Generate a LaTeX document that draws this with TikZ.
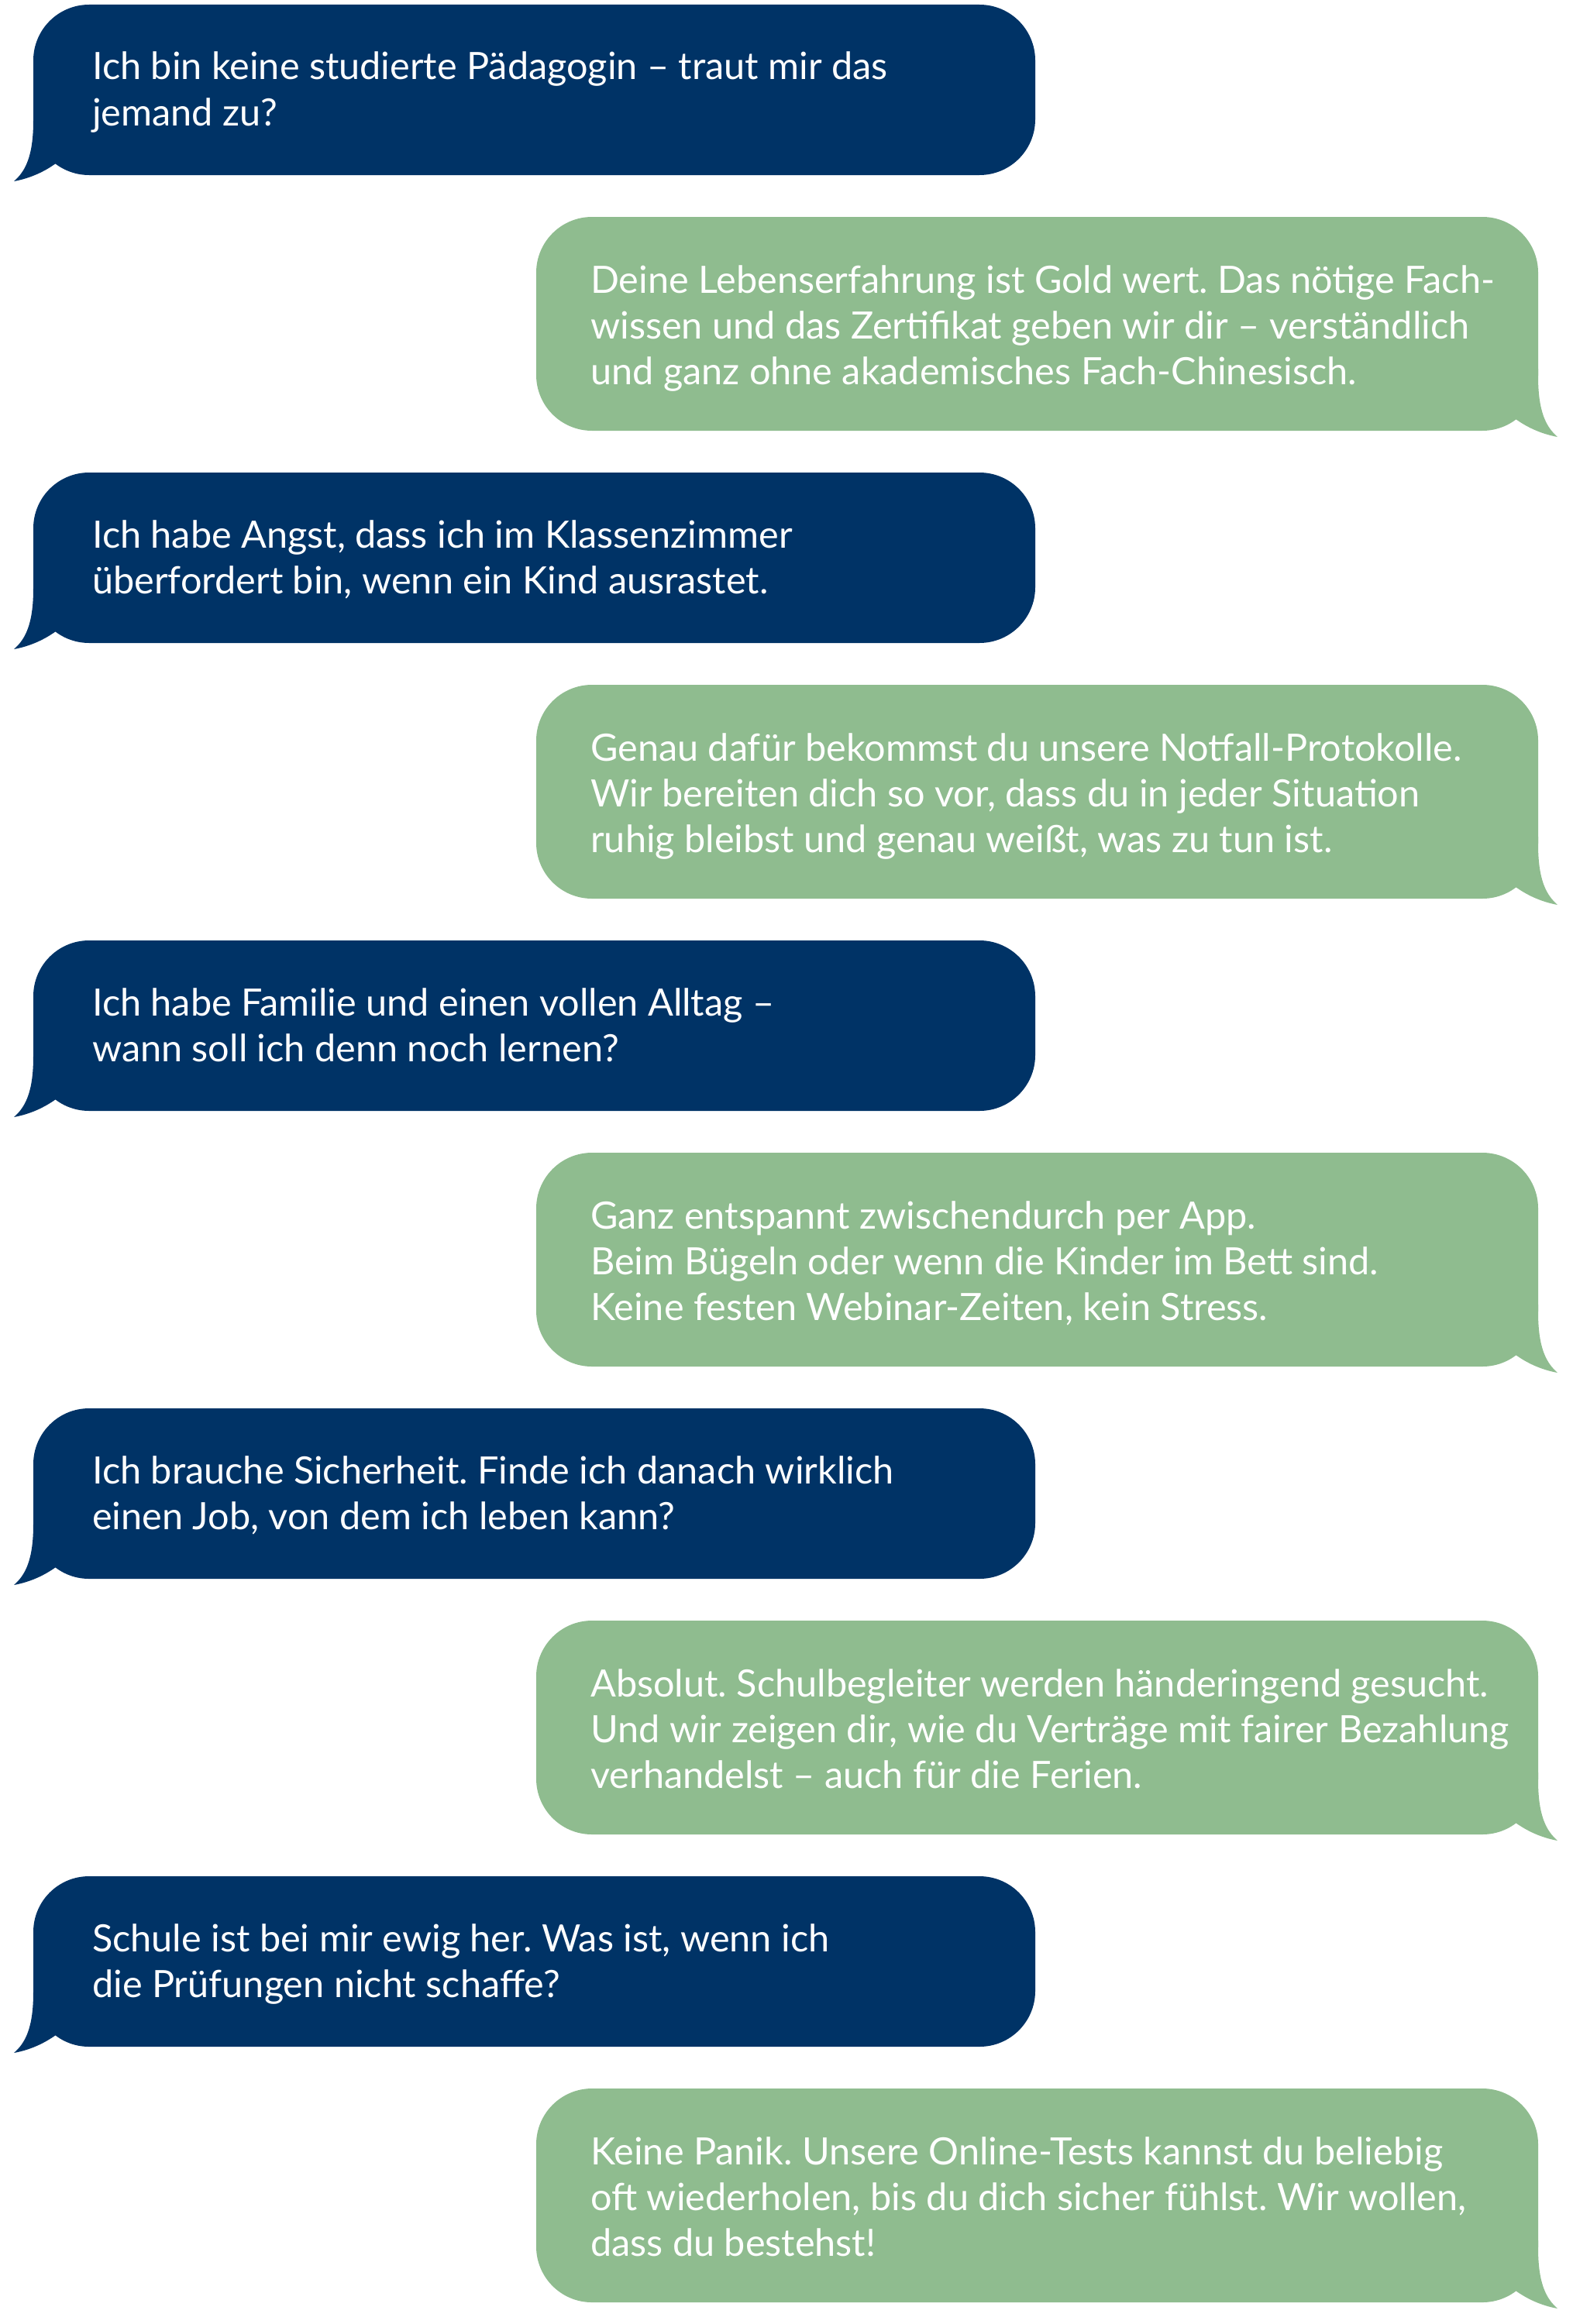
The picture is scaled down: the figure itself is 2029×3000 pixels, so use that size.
\documentclass[tikz,border=0pt]{standalone}
\usepackage{fontspec}
\setmainfont{Lato}
\frenchspacing
\definecolor{navy}{HTML}{003366}
\definecolor{sage}{HTML}{8FBC8F}
\tikzset{
  bubtext/.style={anchor=base west, inner sep=0pt, text=white,
    font=\fontsize{48.6pt}{59pt}\selectfont},
  bluefill/.style={fill=navy},
  greenfill/.style={fill=sage}
}
\newcommand\BlueBub[3]{%
  \begin{scope}[shift={(0,#1)}]
    \fill[bluefill, rounded corners=72pt] (43,0) rectangle (1336,220);
    \fill[bluefill] (43,140) -- (43,150) .. controls (43,195) and (33,215) .. (18,228)
      .. controls (40,224) and (58,215) .. (72,205) -- (95,160) -- cycle;
    \node[bubtext] (#2) at (119,97) {\parbox[t]{1300pt}{\frenchspacing #3}};
  \end{scope}}
\newcommand\GreenBub[3]{%
  \begin{scope}[shift={(0,#1)}]
    \fill[greenfill, rounded corners=72pt] (692,0) rectangle (1985,276);
    \fill[greenfill] (1985,196) -- (1985,206) .. controls (1985,251) and (1995,271) .. (2010,284)
      .. controls (1988,280) and (1970,271) .. (1956,261) -- (1933,216) -- cycle;
    \node[bubtext] (#2) at (762,98) {\parbox[t]{1300pt}{\frenchspacing #3}};
  \end{scope}}
\begin{document}
\begin{tikzpicture}[x=1pt,y=-1pt]
\useasboundingbox (0,0) rectangle (2029,3000);
\BlueBub{6}{b1}{Ich bin keine studierte Pädagogin – traut mir das\\jemand zu?}
\GreenBub{280}{g1}{Deine Lebenserfahrung ist Gold wert. Das nötige Fach-\\wissen und das Zertifikat geben wir dir – verständlich\\und ganz ohne akademisches Fach-Chinesisch.}
\BlueBub{610}{b2}{Ich habe Angst, dass ich im Klassenzimmer\\überfordert bin, wenn ein Kind ausrastet.}
\GreenBub{884}{g2}{Genau dafür bekommst du unsere Notfall-Protokolle.\\Wir bereiten dich so vor, dass du in jeder Situation\\ruhig bleibst und genau weißt, was zu tun ist.}
\BlueBub{1214}{b3}{Ich habe Familie und einen vollen Alltag –\\wann soll ich denn noch lernen?}
\GreenBub{1488}{g3}{Ganz entspannt zwischendurch per App.\\Beim Bügeln oder wenn die Kinder im Bett sind.\\Keine festen Webinar-Zeiten, kein Stress.}
\BlueBub{1818}{b4}{Ich brauche Sicherheit. Finde ich danach wirklich\\einen Job, von dem ich leben kann?}
\GreenBub{2092}{g4}{Absolut. Schulbegleiter werden händeringend gesucht.\\Und wir zeigen dir, wie du Verträge mit fairer Bezahlung\\verhandelst – auch für die Ferien.}
\BlueBub{2422}{b5}{Schule ist bei mir ewig her. Was ist, wenn ich\\die Prüfungen nicht schaffe?}
\GreenBub{2696}{g5}{Keine Panik. Unsere Online-Tests kannst du beliebig\\oft wiederholen, bis du dich sicher fühlst. Wir wollen,\\dass du bestehst!}
\end{tikzpicture}
\end{document}
